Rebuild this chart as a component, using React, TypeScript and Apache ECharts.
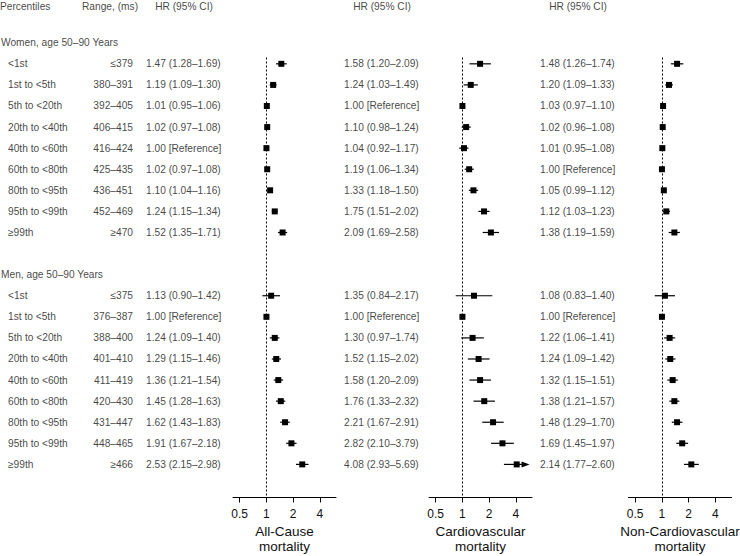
import React, { useEffect, useRef } from "react";
import * as echarts from "echarts";

// ---------- data ----------
const percentileLabels = ["<1st", "1st to <5th", "5th to <20th", "20th to <40th", "40th to <60th", "60th to <80th", "80th to <95th", "95th to <99th", "≥99th"];
const womenRanges = ["≤379", "380–391", "392–405", "406–415", "416–424", "425–435", "436–451", "452–469", "≥470"];
const menRanges = ["≤375", "376–387", "388–400", "401–410", "411–419", "420–430", "431–447", "448–465", "≥466"];
const groupTitles = ["Women, age 50–90 Years", "Men, age 50–90 Years"];
const columnHeaders = ["Percentiles", "Range, (ms)", "HR (95% CI)"];
const panelTitles = ["All-Cause\nmortality", "Cardiovascular\nmortality", "Non-Cardiovascular\nmortality"];
const tickValues = [0.5, 1, 2, 4];

// Women – null = reference category
const womenAllHR = [1.47, 1.19, 1.01, 1.02, 1.0, 1.02, 1.1, 1.24, 1.52];
const womenAllLo = [1.28, 1.09, 0.95, 0.97, null, 0.97, 1.04, 1.15, 1.35];
const womenAllHi = [1.69, 1.3, 1.06, 1.08, null, 1.08, 1.16, 1.34, 1.71];
const womenCvHR = [1.58, 1.24, 1.0, 1.1, 1.04, 1.19, 1.33, 1.75, 2.09];
const womenCvLo = [1.2, 1.03, null, 0.98, 0.92, 1.06, 1.18, 1.51, 1.69];
const womenCvHi = [2.09, 1.49, null, 1.24, 1.17, 1.34, 1.5, 2.02, 2.58];
const womenNonCvHR = [1.48, 1.2, 1.03, 1.02, 1.01, 1.0, 1.05, 1.12, 1.38];
const womenNonCvLo = [1.26, 1.09, 0.97, 0.96, 0.95, null, 0.99, 1.03, 1.19];
const womenNonCvHi = [1.74, 1.33, 1.1, 1.08, 1.08, null, 1.12, 1.23, 1.59];

// Men
const menAllHR = [1.13, 1.0, 1.24, 1.29, 1.36, 1.45, 1.62, 1.91, 2.53];
const menAllLo = [0.9, null, 1.09, 1.15, 1.21, 1.28, 1.43, 1.67, 2.15];
const menAllHi = [1.42, null, 1.4, 1.46, 1.54, 1.63, 1.83, 2.18, 2.98];
const menCvHR = [1.35, 1.0, 1.3, 1.52, 1.58, 1.76, 2.21, 2.82, 4.08];
const menCvLo = [0.84, null, 0.97, 1.15, 1.2, 1.33, 1.67, 2.1, 2.93];
const menCvHi = [2.17, null, 1.74, 2.02, 2.09, 2.32, 2.91, 3.79, 5.69];
const menNonCvHR = [1.08, 1.0, 1.22, 1.24, 1.32, 1.38, 1.48, 1.69, 2.14];
const menNonCvLo = [0.83, null, 1.06, 1.09, 1.15, 1.21, 1.29, 1.45, 1.77];
const menNonCvHi = [1.4, null, 1.41, 1.42, 1.51, 1.57, 1.7, 1.97, 2.6];
// rows whose CI is drawn with an arrow head (men, cardiovascular)
const menCvArrowRows = [8];

// ---------- layout ----------
const W = 740;
const H = 556;
const FONT = "'Liberation Sans', Arial, Helvetica, sans-serif";
const FS = 10.2;
const TXT = "#111";
const GRID_TOP = 57.5;
const AXIS_Y = 497.5;
const ROW_MIN = -0.3;
const ROW_MAX = 20.57;
const PX_PER_ROW = (AXIS_Y - GRID_TOP) / (ROW_MAX - ROW_MIN);
const TEXT_ROW_MIN = ROW_MIN - GRID_TOP / PX_PER_ROW;
const TEXT_ROW_MAX = ROW_MAX + (H - AXIS_Y) / PX_PER_ROW;
const PANEL_LEFT = [233, 429, 628.5];
const PANEL_W = 103;
const X_MIN = -1.25;
const X_MAX = 2.6;
const HEADER_ROW = -2.7;
const WOMEN_HEADER_ROW = -1;
const WOMEN_FIRST_ROW = 0;
const MEN_HEADER_ROW = 10;
const MEN_FIRST_ROW = 11;
const COL_LABEL_X = 8;
const COL_GROUP_X = 1;
const COL_RANGE_RIGHT = 133;
const COL_RANGE_HEAD_X = 82;
const HR_TEXT_X = [146, 344, 540];
const HR_HEAD_X = [184, 382, 578];

const fmt = (v: number) => v.toFixed(2);
const hrText = (hr: number, lo: number | null, hi: number | null) =>
  lo === null || hi === null ? `${fmt(hr)} [Reference]` : `${fmt(hr)} (${fmt(lo)}–${fmt(hi)})`;

type Block = { hr: number[]; lo: (number | null)[]; hi: (number | null)[]; arrows: number[] };
const panels: { women: Block; men: Block }[] = [
  { women: { hr: womenAllHR, lo: womenAllLo, hi: womenAllHi, arrows: [] }, men: { hr: menAllHR, lo: menAllLo, hi: menAllHi, arrows: [] } },
  { women: { hr: womenCvHR, lo: womenCvLo, hi: womenCvHi, arrows: [] }, men: { hr: menCvHR, lo: menCvLo, hi: menCvHi, arrows: menCvArrowRows } },
  { women: { hr: womenNonCvHR, lo: womenNonCvLo, hi: womenNonCvHi, arrows: [] }, men: { hr: menNonCvHR, lo: menNonCvLo, hi: menNonCvHi, arrows: [] } },
];

function buildOption() {
  const grids: any[] = [];
  const xAxes: any[] = [];
  const yAxes: any[] = [];
  const series: any[] = [];

  // text grid (index 0)
  grids.push({ left: 0, top: 0, width: W, height: H, outerBoundsMode: "none", containLabel: false });
  xAxes.push({ gridIndex: 0, type: "value", min: 0, max: W, show: false });
  yAxes.push({ gridIndex: 0, type: "value", min: TEXT_ROW_MIN, max: TEXT_ROW_MAX, inverse: true, show: false });

  const textStyle = { color: TXT, fontFamily: FONT, fontSize: FS };
  const textSeries = (name: string, data: any[], position: any, align?: string) => ({
    name,
    type: "scatter",
    xAxisIndex: 0,
    yAxisIndex: 0,
    symbolSize: 0,
    silent: true,
    data,
    label: {
      show: true,
      position,
      distance: 0,
      formatter: (p: any) => p.value[2],
      ...textStyle,
      ...(align ? { align } : {}),
    },
  });

  const leftTexts: any[] = [];
  const rightTexts: any[] = [];
  const centerTexts: any[] = [];
  leftTexts.push([0, HEADER_ROW, columnHeaders[0]]);
  leftTexts.push([COL_RANGE_HEAD_X, HEADER_ROW, columnHeaders[1]]);
  HR_HEAD_X.forEach((x) => centerTexts.push([x, HEADER_ROW, columnHeaders[2]]));
  leftTexts.push([COL_GROUP_X, WOMEN_HEADER_ROW, groupTitles[0]]);
  leftTexts.push([COL_GROUP_X, MEN_HEADER_ROW, groupTitles[1]]);
  percentileLabels.forEach((lab, i) => {
    leftTexts.push([COL_LABEL_X, WOMEN_FIRST_ROW + i, lab]);
    leftTexts.push([COL_LABEL_X, MEN_FIRST_ROW + i, lab]);
    rightTexts.push([COL_RANGE_RIGHT, WOMEN_FIRST_ROW + i, womenRanges[i]]);
    rightTexts.push([COL_RANGE_RIGHT, MEN_FIRST_ROW + i, menRanges[i]]);
  });
  panels.forEach((p, k) => {
    p.women.hr.forEach((hr, i) => leftTexts.push([HR_TEXT_X[k], WOMEN_FIRST_ROW + i, hrText(hr, p.women.lo[i], p.women.hi[i])]));
    p.men.hr.forEach((hr, i) => leftTexts.push([HR_TEXT_X[k], MEN_FIRST_ROW + i, hrText(hr, p.men.lo[i], p.men.hi[i])]));
  });
  series.push(textSeries("leftTexts", leftTexts, "right"));
  series.push(textSeries("rightTexts", rightTexts, "left"));
  series.push(textSeries("centerTexts", centerTexts, "inside", "center"));

  panels.forEach((p, k) => {
    const gi = k + 1;
    grids.push({
      left: PANEL_LEFT[k],
      top: GRID_TOP,
      width: PANEL_W,
      height: AXIS_Y - GRID_TOP,
      outerBoundsMode: "none",
      containLabel: false,
    });
    const logTicks = tickValues.map((t) => Math.log2(t));
    xAxes.push({
      gridIndex: gi,
      type: "value",
      min: X_MIN,
      max: X_MAX,
      splitLine: { show: false },
      axisLine: { show: true, onZero: false, lineStyle: { color: "#000", width: 1 } },
      axisTick: { show: true, length: 5, customValues: logTicks, lineStyle: { color: "#000", width: 1 } },
      axisLabel: {
        show: true,
        customValues: logTicks,
        formatter: (v: number) => String(Math.round(Math.pow(2, v) * 100) / 100),
        color: TXT,
        fontFamily: FONT,
        fontSize: 12,
        margin: 10,
      },
      name: panelTitles[k],
      nameLocation: "middle",
      nameGap: 25,
      nameTextStyle: { color: TXT, fontFamily: FONT, fontSize: 13.5, lineHeight: 14.5 },
    });
    yAxes.push({ gridIndex: gi, type: "value", min: ROW_MIN, max: ROW_MAX, inverse: true, show: false });

    const data: any[] = [];
    const addBlock = (b: Block, firstRow: number) => {
      b.hr.forEach((hr, i) => {
        const lo = b.lo[i];
        const hi = b.hi[i];
        const isRef = lo === null || hi === null ? 1 : 0;
        data.push([
          Math.log2(hr),
          firstRow + i,
          Math.log2(lo === null ? hr : lo),
          Math.log2(hi === null ? hr : hi),
          b.arrows.includes(i) ? 1 : 0,
          isRef,
        ]);
      });
    };
    addBlock(p.women, WOMEN_FIRST_ROW);
    addBlock(p.men, MEN_FIRST_ROW);

    series.push({
      type: "custom",
      xAxisIndex: gi,
      yAxisIndex: gi,
      silent: true,
      clip: false,
      encode: { x: 0, y: 1 },
      data,
      renderItem: (params: any, api: any) => {
        const c = api.coord([api.value(0), api.value(1)]);
        const y = c[1];
        const children: any[] = [];
        if (!api.value(5)) {
          const p1 = api.coord([api.value(2), api.value(1)]);
          const p2 = api.coord([api.value(3), api.value(1)]);
          const arrow = api.value(4);
          children.push({
            type: "line",
            shape: { x1: p1[0], y1: y, x2: arrow ? p2[0] - 6 : p2[0], y2: y },
            style: { stroke: "#000", lineWidth: 1.2 },
          });
          if (arrow) {
            children.push({
              type: "polygon",
              shape: { points: [[p2[0], y], [p2[0] - 8, y - 3], [p2[0] - 8, y + 3]] },
              style: { fill: "#000" },
            });
          }
        }
        const s = 6;
        children.push({ type: "rect", shape: { x: c[0] - s / 2, y: y - s / 2, width: s, height: s }, style: { fill: "#000" } });
        return { type: "group", children };
      },
      markLine: {
        silent: true,
        symbol: ["none", "none"],
        label: { show: false },
        lineStyle: { color: "#000", type: [2, 2], width: 1 },
        data: [{ xAxis: 0 }],
      },
    });
  });

  return {
    animation: false,
    backgroundColor: "#fff",
    grid: grids,
    xAxis: xAxes,
    yAxis: yAxes,
    series,
  };
}

export default function App() {
  const ref = useRef<HTMLDivElement>(null);
  useEffect(() => {
    if (!ref.current) return;
    const chart = echarts.init(ref.current, undefined, { renderer: "svg" });
    chart.setOption(buildOption());
    return () => chart.dispose();
  }, []);
  return <div ref={ref} style={{ position: "fixed", left: 0, top: 0, width: W, height: H, background: "#fff" }} />;
}
